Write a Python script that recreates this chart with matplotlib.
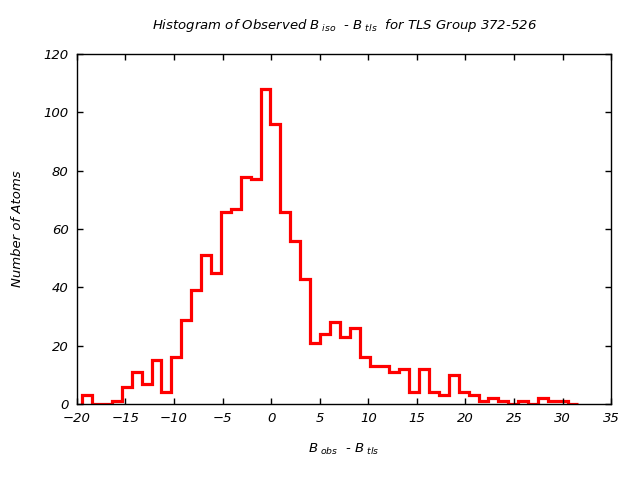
import numpy as np
import matplotlib
matplotlib.use("Agg")
import matplotlib.pyplot as plt

# Histogram data (50 bins)
bin_start = -19.45
bin_end = 31.55
counts = [3, 0, 0, 1, 6, 11, 7, 15, 4, 16,
          29, 39, 51, 45, 66, 67, 78, 77, 108, 96,
          66, 56, 43, 21, 24, 28, 23, 26, 16, 13,
          13, 11, 12, 4, 12, 4, 3, 10, 4, 3,
          1, 2, 1, 0, 1, 0, 2, 1, 1, 0]
xticks = [-20, -15, -10, -5, 0, 5, 10, 15, 20, 25, 30, 35]
yticks = [0, 20, 40, 60, 80, 100, 120]

plt.rcParams['font.family'] = ['DejaVu Sans']
plt.rcParams['font.style'] = 'italic'
plt.rcParams['mathtext.fontset'] = 'dejavusans'
plt.rcParams['mathtext.default'] = 'it'

fig = plt.figure(figsize=(6.4, 4.8), dpi=100)
ax = fig.add_axes([0.120, 0.158, 0.835, 0.7295])

edges = np.linspace(bin_start, bin_end, len(counts) + 1)
ax.stairs(counts, edges, color='#ff0000', linewidth=2.3, baseline=0)

ax.set_xlim(-20, 35)
ax.set_ylim(0, 120)
ax.set_xticks(xticks)
ax.set_yticks(yticks)
ax.tick_params(direction='in', length=4, width=1, top=True, right=True,
               labelsize=9.5, pad=6)
for lab in ax.get_xticklabels() + ax.get_yticklabels():
    lab.set_fontstyle('italic')
for s in ax.spines.values():
    s.set_linewidth(1.0)
    s.set_zorder(5)

ax.set_title(r'Histogram of Observed $B_{\ iso}$  - $B_{\ tls}$  for TLS Group 372-526',
             fontsize=9.5, style='italic', pad=18)
ax.set_xlabel(r'$B_{\ obs}$  - $B_{\ tls}$', fontsize=9.5, style='italic', labelpad=12)
ax.set_ylabel('Number of Atoms', fontsize=9.5, style='italic', labelpad=14)

fig.savefig('out.png', dpi=100)
